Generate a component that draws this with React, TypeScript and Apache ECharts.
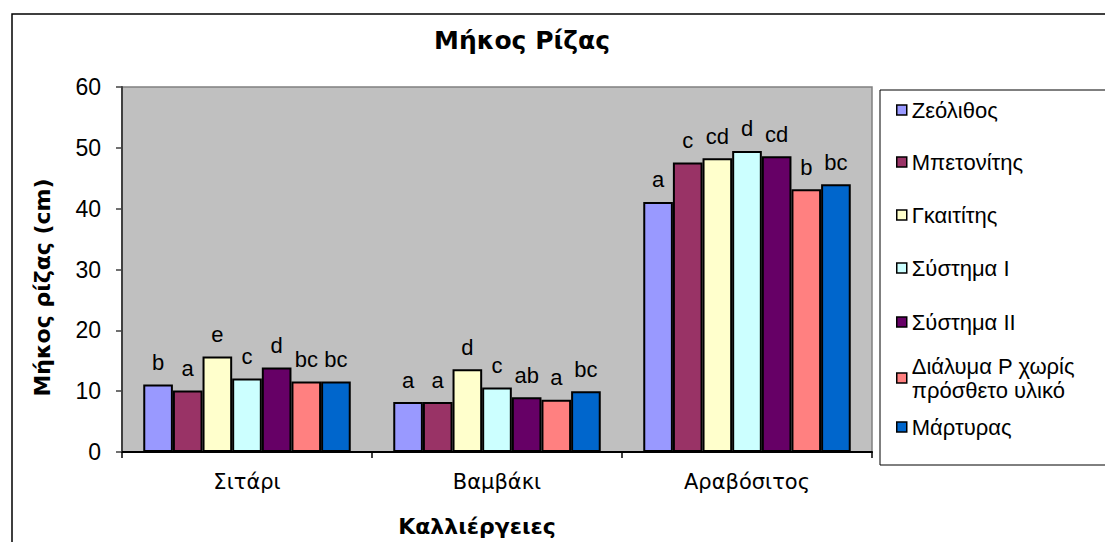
import React, { useEffect, useRef } from "react";
import * as echarts from "echarts";

const categories = ["Σιτάρι", "Βαμβάκι", "Αραβόσιτος"];
const seriesNames = [
  "Ζεόλιθος",
  "Μπετονίτης",
  "Γκαιτίτης",
  "Σύστημα I",
  "Σύστημα II",
  "Διάλυμα P χωρίς πρόσθετο υλικό",
  "Μάρτυρας",
];
const zeolithos = [11.1, 8.2, 41.1];
const mpetonitis = [10.1, 8.2, 47.6];
const gkaititis = [15.7, 13.6, 48.3];
const systemaI = [12.1, 10.6, 49.5];
const systemaII = [13.9, 9.0, 48.6];
const dialyma = [11.6, 8.6, 43.2];
const martyras = [11.6, 10.0, 44.0];
const seriesValues = [zeolithos, mpetonitis, gkaititis, systemaI, systemaII, dialyma, martyras];

const lettersZeolithos = ["b", "a", "a"];
const lettersMpetonitis = ["a", "a", "c"];
const lettersGkaititis = ["e", "d", "cd"];
const lettersSystemaI = ["c", "c", "d"];
const lettersSystemaII = ["d", "ab", "cd"];
const lettersDialyma = ["bc", "a", "b"];
const lettersMartyras = ["bc", "bc", "bc"];
const seriesLetters = [
  lettersZeolithos,
  lettersMpetonitis,
  lettersGkaititis,
  lettersSystemaI,
  lettersSystemaII,
  lettersDialyma,
  lettersMartyras,
];

const colors = ["#9999FF", "#993366", "#FFFFCC", "#CCFFFF", "#660066", "#FF8080", "#0066CC"];
const yTicks = { min: 0, max: 60, interval: 10 };

const ARIAL = "'Liberation Sans', Arial, sans-serif";
const TAHOMA = "'DejaVu Sans', Tahoma, sans-serif";

export default function App() {
  const ref = useRef<HTMLDivElement>(null);
  useEffect(() => {
    if (!ref.current) return;
    const chart = echarts.init(ref.current, undefined, { renderer: "svg" });
    const legendCenters = [110, 162, 215, 268, 322, 378, 427];
    const legends = seriesNames.map((name, i) => {
      const multi = i === 5;
      return {
        orient: "vertical",
        left: 896,
        top: multi ? legendCenters[i] - 36 : legendCenters[i] - 12,
        padding: 0,
        itemWidth: 10,
        itemHeight: 10,
        icon: "rect",
        data: [name],
        formatter: multi ? () => "Διάλυμα P χωρίς\nπρόσθετο υλικό" : undefined,
        itemStyle: { borderColor: "#000", borderWidth: 1.5 },
        textStyle: {
          fontFamily: ARIAL,
          fontSize: 22,
          color: "#000",
          lineHeight: 24,
          padding: multi ? [24, 0, 0, 0] : 0,
        },
      };
    });
    chart.setOption({
      animation: false,
      backgroundColor: "#fff",
      title: {
        text: "Μήκος Ρίζας",
        left: 434,
        top: 28,
        padding: 0,
        textStyle: { fontFamily: TAHOMA, fontWeight: "bold", fontSize: 25, color: "#000" },
      },
      legend: legends,
      grid: {
        left: 122,
        top: 87,
        width: 750,
        height: 366,
        show: true,
        backgroundColor: "#C0C0C0",
        borderColor: "#808080",
        borderWidth: 1.5,
      },
      xAxis: {
        type: "category",
        data: categories,
        name: "Καλλιέργειες",
        nameLocation: "middle",
        nameGap: 63,
        nameTextStyle: {
          fontFamily: TAHOMA,
          fontWeight: "bold",
          fontSize: 22,
          color: "#000",
          padding: [0, 40, 0, 0],
        },
        axisLine: { lineStyle: { color: "#000", width: 2 } },
        axisTick: { show: true, length: 6, lineStyle: { color: "#000", width: 1.5 } },
        axisLabel: { fontFamily: TAHOMA, fontSize: 21, color: "#000", margin: 19 },
      },
      yAxis: {
        type: "value",
        min: yTicks.min,
        max: yTicks.max,
        interval: yTicks.interval,
        name: "Μήκος ρίζας (cm)",
        nameLocation: "middle",
        nameGap: 69,
        nameRotate: 90,
        nameTextStyle: {
          fontFamily: TAHOMA,
          fontWeight: "bold",
          fontSize: 22,
          color: "#000",
          padding: [0, 36, 0, 0],
        },
        axisLine: { show: true, lineStyle: { color: "#404040", width: 2 } },
        axisTick: { show: true, length: 6, lineStyle: { color: "#404040", width: 1.5 } },
        splitLine: { show: false },
        axisLabel: { fontFamily: ARIAL, fontSize: 23, color: "#000", margin: 21 },
      },
      series: seriesNames.map((name, i) => ({
        name,
        type: "bar",
        data: seriesValues[i],
        barGap: "0%",
        barCategoryGap: "17%",
        itemStyle: { color: colors[i], borderColor: "#000", borderWidth: 2 },
        label: {
          show: true,
          position: "top",
          distance: 11,
          fontFamily: ARIAL,
          fontSize: 22,
          color: "#000",
          formatter: (p: any) => seriesLetters[i][p.dataIndex],
        },
      })),
      graphic: [
        {
          type: "rect",
          shape: { x: 12, y: 14, width: 1200, height: 600 },
          style: { fill: "none", stroke: "#000", lineWidth: 1.5 },
          silent: true,
        },
        {
          type: "rect",
          shape: { x: 880, y: 90, width: 300, height: 375 },
          style: { fill: "none", stroke: "#000", lineWidth: 1 },
          silent: true,
        },
      ],
    });
    return () => chart.dispose();
  }, []);
  return (
    <div
      ref={ref}
      style={{ position: "fixed", left: 0, top: 0, width: 1105, height: 542 }}
    />
  );
}
